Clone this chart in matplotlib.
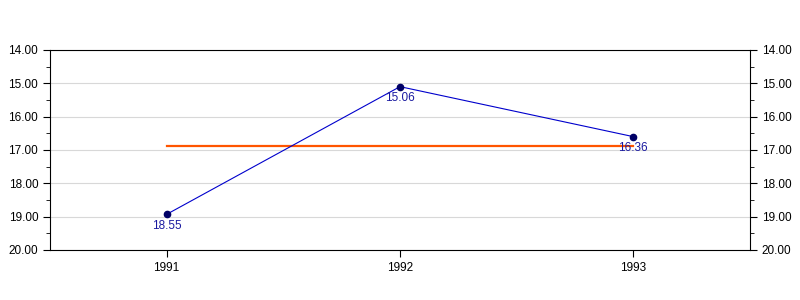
import matplotlib
matplotlib.use("Agg")
from matplotlib import pyplot as plt
from matplotlib.ticker import MultipleLocator, FormatStrFormatter

anos = ["1991", "1992", "1993"]
valores = [18.93, 15.10, 16.60]
rotulos = ["18.55", "15.06", "16.36"]

plt.rcParams['font.family'] = ['Liberation Sans', 'DejaVu Sans']

fig = plt.figure(figsize=(8, 3), dpi=100)
ax = fig.add_axes([0.0625, 0.1667, 0.875, 0.6667])

x = list(range(len(anos)))
media = sum(valores) / len(valores)

ax.plot(x, [media] * len(x), color="#FF5500", lw=1.6, zorder=2)
ax.plot(x, valores, color="#0000CC", lw=0.8, zorder=3)
ax.plot(x, valores, "o", color="#000066", ms=4.5, zorder=4)

for xi, v, r in zip(x, valores, rotulos):
    ax.annotate(r, (xi, v), xytext=(0, -4), textcoords="offset points",
                ha="center", va="top", fontsize=8.5, color="#1a1aa0")

ax.set_xlim(-0.5, 2.5)
ax.set_ylim(20, 14)
ax.set_xticks(x)
ax.set_xticklabels(anos)
ax.yaxis.set_major_locator(MultipleLocator(1))
ax.yaxis.set_minor_locator(MultipleLocator(0.5))
ax.yaxis.set_major_formatter(FormatStrFormatter("%.2f"))
ax.grid(axis="y", which="major", color="#d8d8d8", lw=0.8)
ax.set_axisbelow(True)
ax.tick_params(axis="y", which="both", left=True, right=True, labelleft=True, labelright=True,
               direction="out", labelsize=8.5)
ax.tick_params(axis="y", which="major", length=5)
ax.tick_params(axis="y", which="minor", length=3)
ax.tick_params(axis="x", length=5, labelsize=8.5)
for s in ax.spines.values():
    s.set_linewidth(0.8)

fig.savefig("out.png", dpi=100)
